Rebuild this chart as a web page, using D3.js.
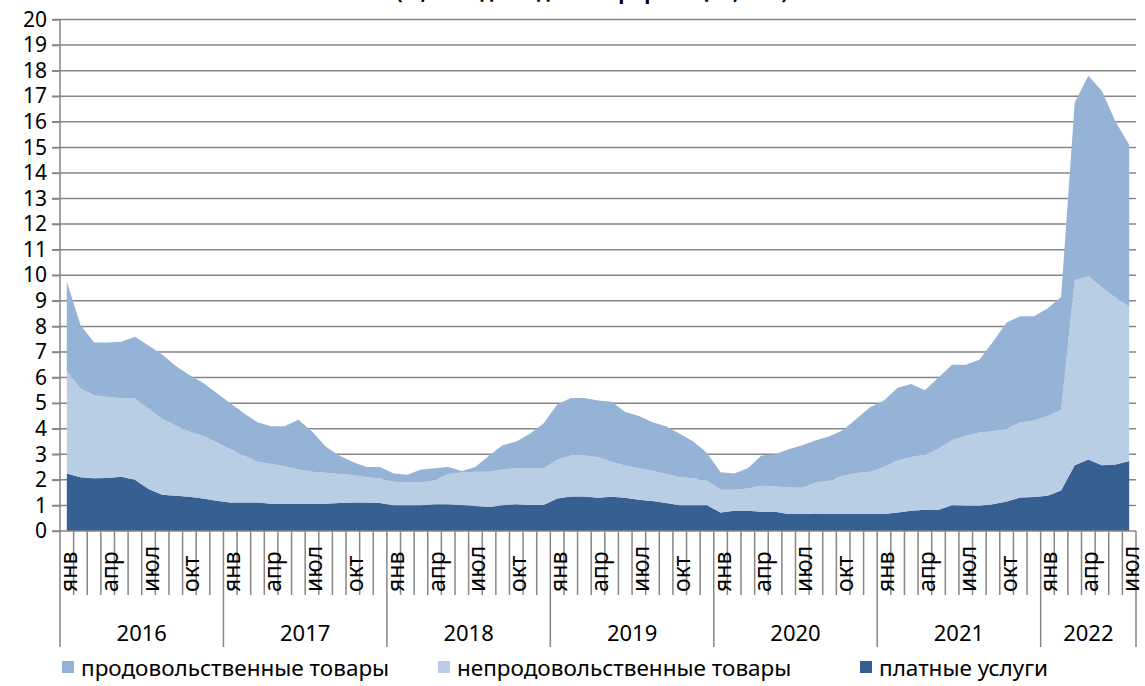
<!DOCTYPE html>
<html>
<head>
<meta charset="utf-8">
<script src="https://cdn.jsdelivr.net/npm/d3@7"></script>
<style>
  body { margin: 0; background: #fff; }
  svg { display: block; font-family: 'Noto Sans', sans-serif; }
</style>
</head>
<body>
<div id="chart"></div>
<script>
// monthly contributions to annual CPI growth, Jan 2016 - Jul 2022
const monthNames = ['янв', 'фев', 'мар', 'апр', 'май', 'июн', 'июл', 'авг', 'сен', 'окт', 'ноя', 'дек']
const years = ['2016', '2017', '2018', '2019', '2020', '2021', '2022']

const services = [
  2.25, 2.1, 2.06, 2.07, 2.12, 2.0, 1.64, 1.42, 1.38, 1.34, 1.27, 1.18,
  1.11, 1.11, 1.11, 1.07, 1.07, 1.07, 1.07, 1.07, 1.09, 1.11, 1.11, 1.09,
  1.01, 1.01, 1.01, 1.05, 1.05, 1.02, 0.98, 0.94, 1.01, 1.05, 1.02, 1.02,
  1.27, 1.35, 1.35, 1.3, 1.34, 1.3, 1.22, 1.17, 1.09, 1.01, 1.01, 1.01,
  0.72, 0.79, 0.79, 0.75, 0.75, 0.66, 0.66, 0.68, 0.66, 0.66, 0.66, 0.66,
  0.66, 0.72, 0.79, 0.83, 0.83, 1.01, 0.99, 0.99, 1.05, 1.15, 1.31, 1.33,
  1.38, 1.58, 2.57, 2.8, 2.57, 2.6, 2.74
]
const nonfood = [
  4.0, 3.47, 3.25, 3.17, 3.08, 3.18, 3.14, 2.97, 2.75, 2.55, 2.44, 2.29,
  2.1, 1.84, 1.6, 1.55, 1.46, 1.33, 1.25, 1.21, 1.14, 1.08, 0.99, 0.97,
  0.92, 0.89, 0.89, 0.94, 1.18, 1.27, 1.34, 1.38, 1.39, 1.4, 1.43, 1.43,
  1.52, 1.6, 1.6, 1.58, 1.37, 1.26, 1.23, 1.19, 1.14, 1.09, 1.05, 0.96,
  0.89, 0.82, 0.87, 1.02, 0.99, 1.04, 1.03, 1.22, 1.31, 1.5, 1.61, 1.66,
  1.84, 2.04, 2.1, 2.15, 2.39, 2.54, 2.73, 2.86, 2.85, 2.85, 2.93, 2.99,
  3.12, 3.15, 7.23, 7.16, 6.96, 6.52, 6.04
]
const food = [
  3.5, 2.49, 2.06, 2.13, 2.2, 2.42, 2.47, 2.51, 2.32, 2.21, 2.09, 1.93,
  1.79, 1.65, 1.54, 1.48, 1.57, 1.95, 1.58, 1.02, 0.72, 0.51, 0.4, 0.44,
  0.32, 0.3, 0.5, 0.46, 0.27, 0.06, 0.18, 0.63, 0.95, 1.05, 1.35, 1.75,
  2.16, 2.25, 2.25, 2.22, 2.34, 2.09, 2.05, 1.89, 1.87, 1.7, 1.44, 1.08,
  0.69, 0.64, 0.79, 1.18, 1.26, 1.5, 1.66, 1.65, 1.73, 1.79, 2.13, 2.53,
  2.6, 2.84, 2.86, 2.52, 2.78, 2.95, 2.78, 2.85, 3.5, 4.15, 4.16, 4.08,
  4.2, 4.42, 6.95, 7.84, 7.67, 6.88, 6.32
]

const seriesKeys = ['services', 'nonfood', 'food']
const seriesNames = {
  food: 'продовольственные товары',
  nonfood: 'непродовольственные товары',
  services: 'платные услуги'
}
const colors = { food: '#95b3d7', nonfood: '#b9cde5', services: '#376092' }

const width = 1145
const height = 686
const margin = { top: 19.5, left: 60, right: 9, bottom: 155 }
const axisColor = '#868686'

const svg = d3.select('#chart')
  .append('svg')
  .attr('width', width)
  .attr('height', height)

const table = services.map((s, i) => ({ i: i, services: s, nonfood: nonfood[i], food: food[i] }))
const n = table.length

const x = d3.scaleBand()
  .domain(d3.range(n))
  .range([margin.left, width - margin.right])
  .padding(0)

const y = d3.scaleLinear()
  .domain([0, 20])
  .range([height - margin.bottom, margin.top])

const y0 = y(0)

// partial title, cut by the top edge as in the source
svg.append('text')
  .text('(%, вклад в годовой прирост цен, п.п.)')
  .attr('x', 592)
  .attr('y', -1)
  .attr('text-anchor', 'middle')
  .attr('font-size', 20)
  .attr('font-weight', 'bold')
  .attr('fill', '#000')

// gridlines
svg.append('g')
  .selectAll('line')
  .data(y.ticks(20).filter(d => d > 0))
  .enter()
  .append('line')
  .attr('x1', margin.left - 8)
  .attr('x2', width - margin.right)
  .attr('y1', d => y(d))
  .attr('y2', d => y(d))
  .attr('stroke', axisColor)
  .attr('stroke-width', 1.5)

// stacked areas
const stacked = d3.stack().keys(seriesKeys)(table)
const area = d3.area()
  .x(d => x(d.data.i) + x.bandwidth() / 2)
  .y0(d => y(d[0]))
  .y1(d => y(d[1]))

svg.append('g')
  .selectAll('path')
  .data(stacked)
  .enter()
  .append('path')
  .attr('d', area)
  .attr('fill', d => colors[d.key])

// y axis
const yAxis = svg.append('g')
  .attr('transform', 'translate(' + margin.left + ',0)')
  .call(d3.axisLeft(y).ticks(20).tickSize(8).tickPadding(4))
yAxis.select('.domain').remove()
yAxis.selectAll('line').attr('stroke', axisColor).attr('stroke-width', 1.5)
yAxis.selectAll('text')
  .attr('font-size', 21)
  .attr('font-family', "'Noto Sans', sans-serif")
  .attr('fill', '#000')
  .attr('x', -13)

svg.append('line')
  .attr('x1', margin.left).attr('x2', margin.left)
  .attr('y1', y(20)).attr('y2', y0)
  .attr('stroke', axisColor).attr('stroke-width', 1.5)

// x axis line
svg.append('line')
  .attr('x1', margin.left - 8).attr('x2', width - margin.right)
  .attr('y1', y0).attr('y2', y0)
  .attr('stroke', axisColor).attr('stroke-width', 1.5)

// month boundaries and year separators
const step = x.step()
svg.append('g')
  .selectAll('line')
  .data(d3.range(n + 1))
  .enter()
  .append('line')
  .attr('x1', k => margin.left + k * step)
  .attr('x2', k => margin.left + k * step)
  .attr('y1', y0)
  .attr('y2', k => (k % 12 === 0 || k === n) ? y0 + 116 : y0 + 64)
  .attr('stroke', axisColor)
  .attr('stroke-width', 1.5)

// month labels, every third month
svg.append('g')
  .selectAll('text')
  .data(table.filter(d => d.i % 3 === 0))
  .enter()
  .append('text')
  .text(d => monthNames[d.i % 12])
  .attr('transform', d => 'translate(' + (x(d.i) + x.bandwidth() / 2 + 1) + ',' + (y0 + 61) + ') rotate(-90)')
  .attr('dominant-baseline', 'central')
  .attr('text-anchor', 'start')
  .attr('font-size', 23)
  .attr('fill', '#000')

// year labels
svg.append('g')
  .selectAll('text')
  .data(years)
  .enter()
  .append('text')
  .text(d => d)
  .attr('x', (d, j) => {
    const start = margin.left + j * 12 * step
    const end = Math.min(start + 12 * step, width - margin.right)
    return (start + end) / 2
  })
  .attr('y', y0 + 110)
  .attr('text-anchor', 'middle')
  .attr('font-size', 22)
  .attr('fill', '#000')

// legend
const legendItems = [
  { key: 'food', x: 62 },
  { key: 'nonfood', x: 438 },
  { key: 'services', x: 860 }
]
const legend = svg.append('g')
  .selectAll('g')
  .data(legendItems)
  .enter()
  .append('g')
  .attr('transform', d => 'translate(' + d.x + ',' + 667 + ')')

legend.append('rect')
  .attr('x', 0)
  .attr('y', -6)
  .attr('width', 12)
  .attr('height', 12)
  .attr('fill', d => colors[d.key])

legend.append('text')
  .text(d => seriesNames[d.key])
  .attr('x', 19)
  .attr('y', 0)
  .attr('dominant-baseline', 'central')
  .attr('font-size', 22.5)
  .attr('fill', '#000')
</script>
</body>
</html>
